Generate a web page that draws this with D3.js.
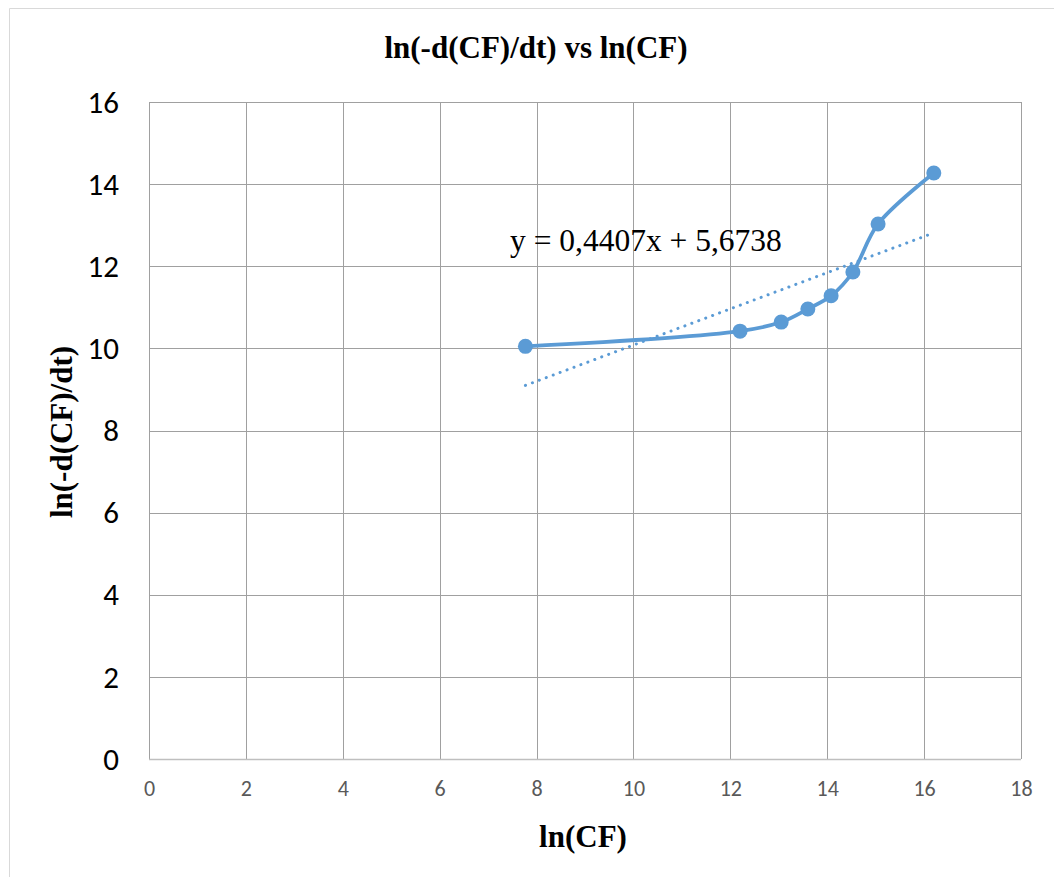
<!DOCTYPE html>
<html>
<head>
<meta charset="utf-8">
<script src="https://cdn.jsdelivr.net/npm/d3@7"></script>
<style>
  body { margin: 0; background: #fff; }
</style>
</head>
<body>
<div class="chart"></div>
<script>

// data
var lnCF = [7.77, 12.2, 13.05, 13.6, 14.08, 14.53, 15.05, 16.2];
var lnRate = [10.05, 10.42, 10.64, 10.96, 11.28, 11.86, 13.03, 14.27];
var xTicks = [0, 2, 4, 6, 8, 10, 12, 14, 16, 18];
var yTicks = [0, 2, 4, 6, 8, 10, 12, 14, 16];
var slope = 0.4407, intercept = 5.6738;
var eqLabel = "y = 0,4407x + 5,6738";

var W = 1054, H = 877;
var margin = {top: 102, right: 33, bottom: 118, left: 149},
    width = W - margin.left - margin.right,
    height = H - margin.top - margin.bottom;

var blue = "#5b9bd5";
var serif = "'Liberation Serif', 'Times New Roman', serif";
var sans = "Carlito, Lato, 'Open Sans', sans-serif";

var svg = d3.select(".chart")
	.append("svg")
	.attr("width", W)
	.attr("height", H);

// chart area frame (only top and left edges visible)
svg.append("path")
	.attr("d", "M9.5," + H + "V8.5H" + W)
	.attr("fill", "none")
	.attr("stroke", "#d9d9d9")
	.attr("stroke-width", 1);

var g = svg.append("g")
	.attr("transform", "translate(" + margin.left + "," + margin.top + ")");

var x = d3.scaleLinear().domain([0, 18]).range([0, width]);
var y = d3.scaleLinear().domain([0, 16]).range([height, 0]);

// gridlines
g.selectAll(".vgrid")
	.data(xTicks)
	.enter().append("line")
	.attr("class", "vgrid")
	.attr("x1", function(d) { return Math.round(x(d)) + 0.5; })
	.attr("x2", function(d) { return Math.round(x(d)) + 0.5; })
	.attr("y1", 0)
	.attr("y2", height)
	.attr("stroke", "#a0a0a0")
	.attr("stroke-width", 1);

g.selectAll(".hgrid")
	.data(yTicks.filter(function(d) { return d > 0; }))
	.enter().append("line")
	.attr("class", "hgrid")
	.attr("x1", 0)
	.attr("x2", width)
	.attr("y1", function(d) { return Math.round(y(d)) + 0.5; })
	.attr("y2", function(d) { return Math.round(y(d)) + 0.5; })
	.attr("stroke", "#a0a0a0")
	.attr("stroke-width", 1);

// x axis line
g.append("line")
	.attr("x1", 0).attr("x2", width)
	.attr("y1", height + 0.5).attr("y2", height + 0.5)
	.attr("stroke", "#bfbfbf")
	.attr("stroke-width", 1.5);

// tick labels
var xAxis = d3.axisBottom(x).tickValues(xTicks).tickSize(0).tickPadding(0);
var xa = g.append("g")
	.attr("transform", "translate(0," + height + ")")
	.call(xAxis);
xa.select(".domain").remove();
xa.selectAll("text")
	.attr("dy", null)
	.attr("y", 37)
	.attr("fill", "#595959")
	.style("font-family", sans)
	.style("font-size", "22px");

var yAxis = d3.axisLeft(y).tickValues(yTicks).tickSize(0).tickPadding(0);
var ya = g.append("g").call(yAxis);
ya.select(".domain").remove();
ya.selectAll("text")
	.attr("x", -30)
	.attr("dy", "0.33em")
	.attr("fill", "#000")
	.style("font-family", sans)
	.style("font-size", "31px");

// trendline
var tr = d3.extent(lnCF);
g.append("line")
	.attr("x1", x(tr[0]))
	.attr("y1", y(slope * tr[0] + intercept))
	.attr("x2", x(tr[1]))
	.attr("y2", y(slope * tr[1] + intercept))
	.attr("stroke", blue)
	.attr("stroke-width", 3)
	.attr("stroke-linecap", "round")
	.attr("stroke-dasharray", "0.1,7.3");

// smoothed series line
var pts = lnCF.map(function(d, i) { return [d, lnRate[i]]; });
var line = d3.line()
	.x(function(d) { return x(d[0]); })
	.y(function(d) { return y(d[1]); })
	.curve(d3.curveCatmullRom.alpha(0.5));

g.append("path")
	.datum(pts)
	.attr("d", line)
	.attr("fill", "none")
	.attr("stroke", blue)
	.attr("stroke-width", 3.75);

g.selectAll(".pt")
	.data(pts)
	.enter().append("circle")
	.attr("class", "pt")
	.attr("cx", function(d) { return x(d[0]); })
	.attr("cy", function(d) { return y(d[1]); })
	.attr("r", 7.5)
	.attr("fill", blue);

// equation label
svg.append("text")
	.attr("x", 510)
	.attr("y", 251)
	.attr("fill", "#000")
	.style("font-family", serif)
	.style("font-size", "31.5px")
	.text(eqLabel);

// titles
svg.append("text")
	.attr("x", 536)
	.attr("y", 58)
	.attr("text-anchor", "middle")
	.style("font-family", serif)
	.style("font-weight", "bold")
	.style("font-size", "31px")
	.text("ln(-d(CF)/dt) vs ln(CF)");

svg.append("text")
	.attr("x", 583)
	.attr("y", 847)
	.attr("text-anchor", "middle")
	.style("font-family", serif)
	.style("font-weight", "bold")
	.style("font-size", "31px")
	.text("ln(CF)");

svg.append("text")
	.attr("transform", "translate(72,432) rotate(-90)")
	.attr("text-anchor", "middle")
	.style("font-family", serif)
	.style("font-weight", "bold")
	.style("font-size", "31px")
	.text("ln(-d(CF)/dt)");

</script>
</body>
</html>
